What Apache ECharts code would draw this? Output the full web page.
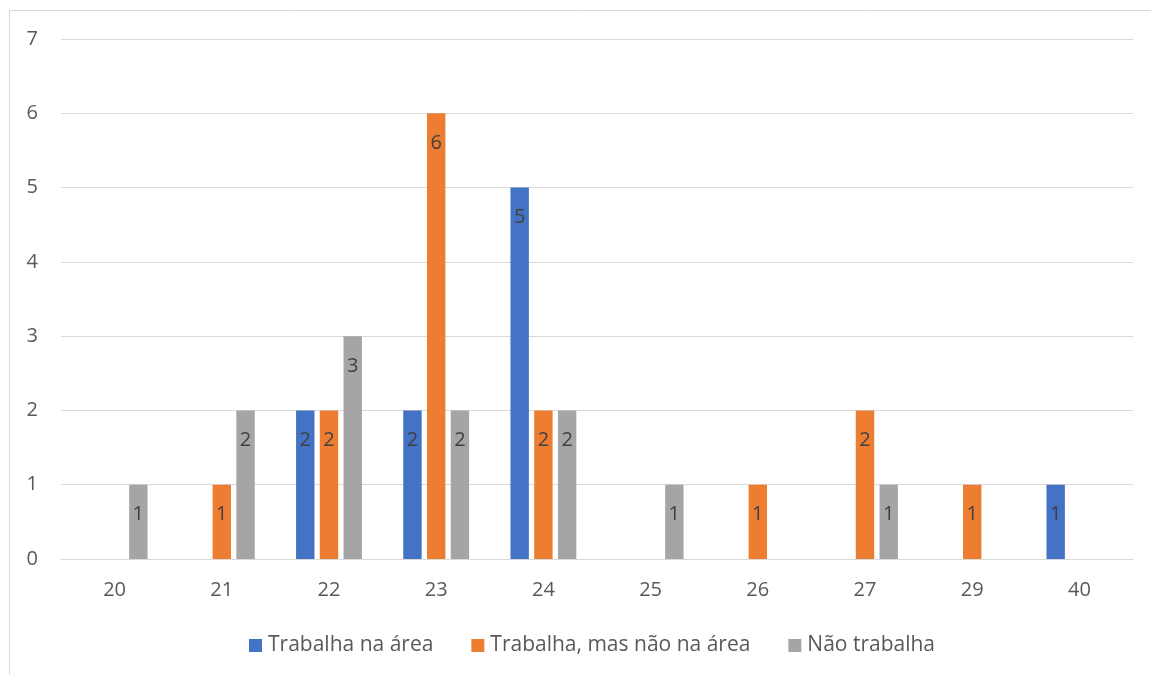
<!DOCTYPE html>
<html>
<head>
<meta charset="utf-8">
<script src="https://cdn.jsdelivr.net/npm/echarts@6/dist/echarts.min.js"></script>
<style>html,body{margin:0;padding:0;background:#fff}#c{width:1151px;height:675px}</style>
</head>
<body>
<div id="c"></div>
<script>
const categories = ['20', '21', '22', '23', '24', '25', '26', '27', '29', '40'];
const seriesNames = ['Trabalha na área', 'Trabalha, mas não na área', 'Não trabalha'];
const trabalhaNaArea = [0, 0, 2, 2, 5, 0, 0, 0, 0, 1];
const trabalhaMasNaoNaArea = [0, 1, 2, 6, 2, 0, 1, 2, 1, 0];
const naoTrabalha = [1, 2, 3, 2, 2, 1, 0, 1, 0, 0];
const colors = ['#4472C4', '#ED7D31', '#A5A5A5'];

const FONT = '"Open Sans", "Noto Sans", sans-serif';
const chart = echarts.init(document.getElementById('c'));

function mk(name, data, color) {
  return {
    name: name,
    type: 'bar',
    data: data,
    barWidth: 18.4,
    barGap: '29%',
    itemStyle: { color: color },
    label: {
      show: true,
      position: 'insideTop',
      distance: 20,
      color: '#404040',
      fontFamily: FONT,
      fontSize: 20,
      formatter: p => (p.value ? String(p.value) : '')
    },
    emphasis: { disabled: true },
    animation: false
  };
}

chart.setOption({
  animation: false,
  textStyle: { fontFamily: FONT },
  graphic: [{
    type: 'rect',
    shape: { x: 9.5, y: 10.5, width: 1300, height: 800 },
    style: { fill: 'none', stroke: '#D9D9D9', lineWidth: 1 },
    silent: true,
    z: -1
  }],
  grid: { left: 61, right: 18, top: 39, bottom: 116, containLabel: false },
  legend: {
    left: 249,
    top: 635,
    padding: 0,
    itemWidth: 13,
    itemHeight: 13,
    itemGap: 38,
    icon: 'rect',
    textStyle: { color: '#595959', fontSize: 21, fontFamily: FONT, padding: [0, 0, 0, 1] },
    data: seriesNames
  },
  xAxis: {
    type: 'category',
    data: categories,
    axisTick: { show: false },
    axisLine: { lineStyle: { color: '#D9D9D9', width: 1 } },
    axisLabel: { color: '#595959', fontSize: 20, fontFamily: FONT, margin: 21 }
  },
  yAxis: {
    type: 'value',
    min: 0,
    max: 7,
    interval: 1,
    axisLine: { show: false },
    axisTick: { show: false },
    splitLine: { lineStyle: { color: '#D9D9D9', width: 1 } },
    axisLabel: { color: '#595959', fontSize: 20, fontFamily: FONT, margin: 23 }
  },
  series: [
    mk(seriesNames[0], trabalhaNaArea, colors[0]),
    mk(seriesNames[1], trabalhaMasNaoNaArea, colors[1]),
    mk(seriesNames[2], naoTrabalha, colors[2])
  ]
});
</script>
</body>
</html>
